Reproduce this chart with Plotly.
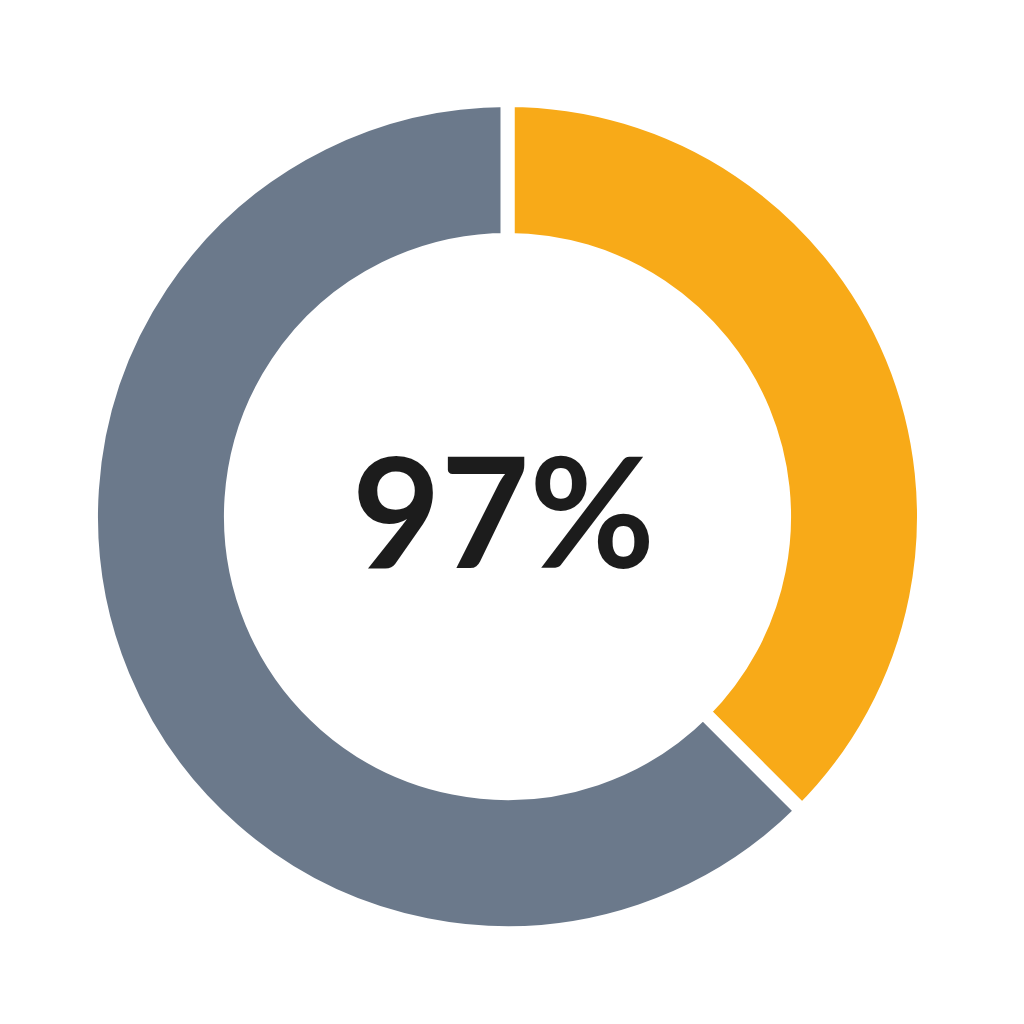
import plotly.graph_objects as go

# donut: share done vs. rest
labels = ['Done', 'Remaining']
values = [37.5, 62.5]
colors = ['#F8AA18', '#6B798B']
center_text = '97%'

fig = go.Figure(go.Pie(labels=labels,
                       values=values,
                       hole=0.664,
                       sort=False,
                       direction='clockwise',
                       rotation=0,
                       marker=dict(colors=colors, line=dict(color='white', width=14)),
                       textinfo='none',
                       hoverinfo='label+percent',
                       showlegend=False))

fig.add_annotation(text=center_text, x=0.5, y=0.5, xref='paper', yref='paper',
                   showarrow=False, xshift=-4, yshift=8,
                   font=dict(family='Lato', size=153, color='#1c1c1c', weight=700))

fig.update_layout(width=1024, height=1024,
                  margin=dict(l=82, r=107, t=92, b=99),
                  paper_bgcolor='white', plot_bgcolor='white')

fig.write_html('out.html')
